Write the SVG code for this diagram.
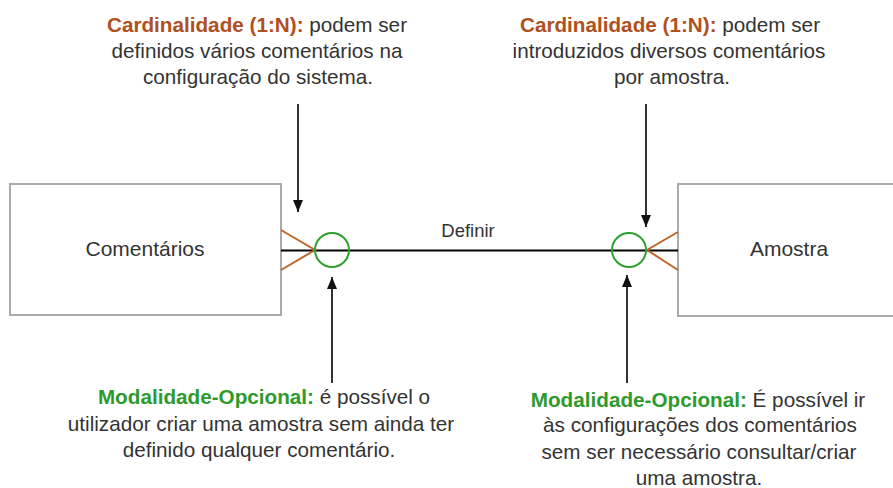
<svg xmlns="http://www.w3.org/2000/svg" width="893" height="488" viewBox="0 0 893 488">
  <style>
    text { font-family: "Liberation Sans", Arial, sans-serif; fill: #333; }
    .note { font-size: 20.7px; text-anchor: middle; }
    .card { fill: #B0501E; font-weight: bold; }
    .mod { fill: #2E9A2E; font-weight: bold; }
    .box { fill: #fff; stroke: #aaa; stroke-width: 2; }
    .lbl { font-size: 21px; text-anchor: middle; }
    .rel { stroke: #000; stroke-width: 2; fill: none; }
    .crow { stroke: #C0652A; stroke-width: 2; fill: none; }
    .opt { stroke: #2EA02E; stroke-width: 2; fill: none; }
    .ptr { stroke: #333; stroke-width: 2; fill: none; marker-end: url(#arr); }
  </style>
  <defs>
    <marker id="arr" viewBox="0 0 12 10" refX="12" refY="5" markerWidth="6" markerHeight="5" orient="auto" markerUnits="strokeWidth">
      <path d="M0,0 L12,5 L0,10 z" fill="#111"/>
    </marker>
  </defs>
  <rect width="893" height="488" fill="#fff"/>

  <g id="node-comentarios">
    <rect class="box" x="10" y="184" width="271" height="131"/>
    <text class="lbl" x="145" y="256">Comentários</text>
  </g>
  <g id="node-amostra">
    <rect class="box" x="678" y="184" width="240" height="132"/>
    <text class="lbl" x="789" y="256">Amostra</text>
  </g>

  <g id="connectors">
    <line class="rel" x1="281" y1="250.5" x2="678" y2="250.5"/>
    <text x="468" y="237" font-size="18.5" text-anchor="middle">Definir</text>
    <polyline class="crow" points="281,230 315,250 281,270"/>
    <polyline class="crow" points="678,232 647,250 678,270"/>
    <circle class="opt" cx="332" cy="250" r="17"/>
    <circle class="opt" cx="629" cy="250" r="17"/>
    <line class="ptr" x1="298" y1="104" x2="298" y2="212"/>
    <line class="ptr" x1="332" y1="383" x2="332" y2="277"/>
    <line class="ptr" x1="646" y1="104" x2="646" y2="227"/>
    <line class="ptr" x1="627" y1="383" x2="627" y2="275"/>
  </g>

  <g id="note-card-left">
    <text class="note" x="257" y="31.5"><tspan class="card">Cardinalidade (1:N):</tspan> podem ser</text>
    <text class="note" x="257" y="58">definidos vários comentários na</text>
    <text class="note" x="258" y="83.5">configuração do sistema.</text>
  </g>
  <g id="note-card-right">
    <text class="note" x="670" y="31.5"><tspan class="card">Cardinalidade (1:N):</tspan> podem ser</text>
    <text class="note" x="669" y="57.5">introduzidos diversos comentários</text>
    <text class="note" x="672" y="83.5">por amostra.</text>
  </g>
  <g id="note-mod-left">
    <text class="note" x="264" y="404"><tspan class="mod">Modalidade-Opcional:</tspan> é possível o</text>
    <text class="note" x="261" y="430.5">utilizador criar uma amostra sem ainda ter</text>
    <text class="note" x="259" y="456.5">definido qualquer comentário.</text>
  </g>
  <g id="note-mod-right">
    <text class="note" x="698" y="406.5"><tspan class="mod">Modalidade-Opcional:</tspan> É possível ir</text>
    <text class="note" x="700" y="432">às configurações dos comentários</text>
    <text class="note" x="699" y="458.5">sem ser necessário consultar/criar</text>
    <text class="note" x="699" y="485">uma amostra.</text>
  </g>
</svg>
